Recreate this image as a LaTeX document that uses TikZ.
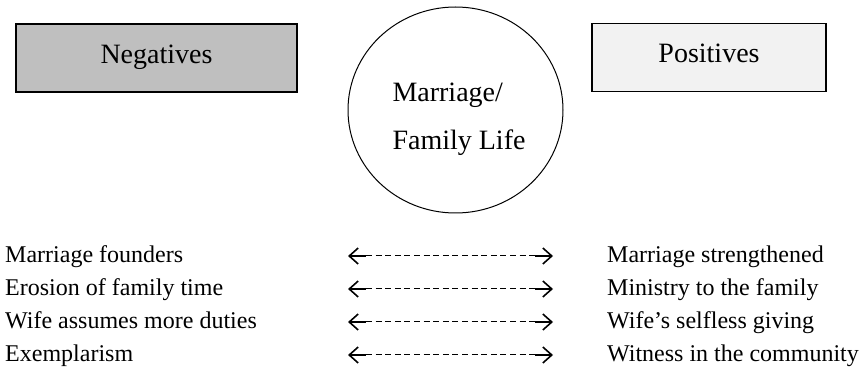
\documentclass[tikz,border=0pt]{standalone}
\usepackage{fontspec}
\setmainfont{Liberation Serif}
\usetikzlibrary{arrows.meta,shapes.geometric}

\tikzset{
  headbox/.style={draw, line width=1.2pt, minimum width=281pt, minimum height=68pt,
    inner sep=0pt, text height=19pt, text depth=8pt, font=\fontsize{28}{34}\selectfont},
  hubshape/.style={draw, ellipse, line width=1pt, minimum width=215pt, minimum height=206pt, inner sep=0pt},
  hubtext/.style={align=left, inner sep=0pt, font=\fontsize{28}{48}\selectfont},
  itemtext/.style={anchor=base west, inner sep=0pt, font=\fontsize{24}{33}\selectfont},
  dashshaft/.style={line width=1pt, dash pattern=on 6pt off 3.6pt,
    shorten <=18pt, shorten >=18pt},
  lefttip/.style={draw, solid, line width=1.6pt, shorten <=0pt, shorten >=187pt,
    {Straight Barb[length=9pt,width=16pt]}-},
  righttip/.style={draw, solid, line width=1.6pt, shorten >=0pt, shorten <=187pt,
    -{Straight Barb[length=9pt,width=16pt]}},
  twoway/.style={draw, dashshaft, postaction=lefttip, postaction=righttip}
}

\begin{document}
\begin{tikzpicture}[x=1pt, y=-1pt]
  \useasboundingbox (0,0) rectangle (868,371);

  % heading boxes and the central circle
  \node[headbox, fill=black!25] (neg) at (156.5,58) {Negatives};
  \node[headbox, fill=black!5, minimum width=234pt] (pos) at (709,57.5) {Positives};
  \node[hubshape] (hub) at (455.5,110) {};
  \node[hubtext] (hublabel) at (459,119.5) {Marriage/\\Family Life};

  % paired consequences with two-way arrows
  \foreach \k/\lt/\rt in {0/Marriage founders/Marriage strengthened,
                          1/Erosion of family time/Ministry to the family,
                          2/Wife assumes more duties/Wife’s selfless giving,
                          3/Exemplarism/Witness in the community} {
    \node[itemtext] (l\k) at (5,263+33*\k) {\lt};
    \node[itemtext] (r\k) at (607,263+33*\k) {\rt};
    \coordinate (al\k) at (348,256+33*\k);
    \coordinate (ar\k) at (553,256+33*\k);
    \path[twoway] (al\k) -- (ar\k);
  }
\end{tikzpicture}
\end{document}
